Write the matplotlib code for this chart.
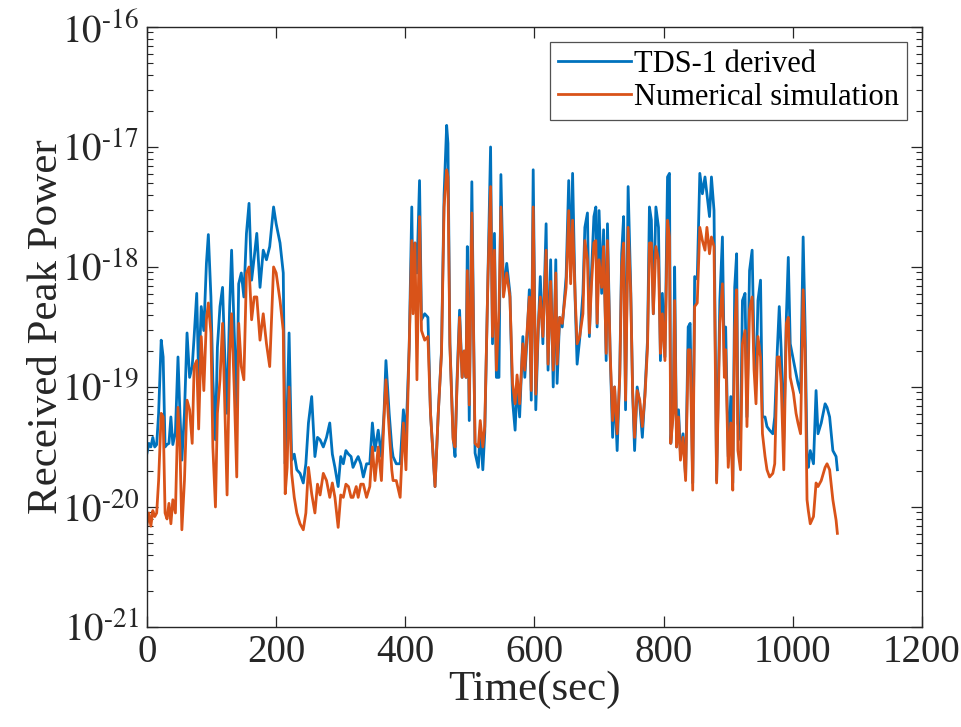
import numpy as np
import matplotlib
matplotlib.use("Agg")
import matplotlib.pyplot as plt
from matplotlib.ticker import FixedLocator, NullFormatter, FuncFormatter

plt.rcParams['font.family'] = ['Liberation Serif', 'DejaVu Serif']
plt.rcParams['mathtext.fontset'] = 'stix'

time_sec = [0, 3, 6, 9, 12, 15, 18, 22, 25, 28, 31, 34, 37, 40, 44, 48, 51, 54, 58, 62,
            66, 70, 73, 77, 80, 84, 88, 92, 95, 99, 102, 106, 109, 113, 117, 120, 124, 128, 131, 135,
            139, 142, 146, 150, 154, 158, 162, 166, 170, 175, 180, 185, 190, 196, 200, 206, 211, 214, 217, 220,
            224, 228, 232, 237, 242, 246, 250, 255, 260, 264, 268, 273, 278, 283, 287, 291, 296, 300, 304, 308,
            312, 316, 319, 324, 327, 331, 335, 340, 345, 349, 353, 358, 363, 367, 370, 375, 379, 381, 386, 392,
            397, 401, 406, 410, 412, 415, 418, 422, 425, 430, 435, 439, 446, 451, 456, 460, 464, 466, 469, 474,
            477, 480, 484, 488, 491, 494, 496, 499, 503, 508, 513, 516, 520, 523, 528, 532, 535, 538, 541, 545,
            548, 552, 557, 562, 566, 570, 573, 577, 582, 585, 588, 592, 595, 598, 602, 606, 609, 613, 618, 621,
            625, 629, 633, 635, 639, 643, 649, 653, 656, 659, 663, 666, 670, 675, 678, 682, 685, 688, 692, 695,
            697, 700, 704, 707, 711, 713, 717, 721, 724, 728, 732, 735, 738, 741, 745, 749, 752, 755, 759, 763,
            767, 771, 775, 778, 781, 784, 788, 792, 795, 798, 802, 806, 809, 811, 815, 817, 820, 823, 826, 830,
            834, 838, 841, 845, 848, 852, 856, 860, 864, 867, 871, 874, 878, 882, 887, 891, 894, 896, 900, 904,
            907, 910, 913, 915, 919, 922, 926, 929, 933, 937, 940, 943, 946, 950, 953, 957, 960, 964, 969, 972,
            976, 979, 982, 986, 990, 993, 996, 1001, 1005, 1008, 1012, 1016, 1019, 1022, 1024, 1027, 1032, 1036, 1039, 1044,
            1050, 1053, 1057, 1062, 1067, 1069]

# log10 of received peak power
tds1_log10 = [-19.55, -19.47, -19.50, -19.42, -19.50, -19.48, -19.22, -18.61, -18.75, -19.50, -19.48, -19.47, -19.25, -19.48, -19.38, -18.75, -19.22, -19.61, -19.22, -18.55,
              -18.92, -18.83, -18.58, -18.22, -18.94, -18.33, -18.53, -17.97, -17.73, -18.25, -18.94, -19.44, -18.67, -18.33, -18.17, -18.67, -19.22, -18.33, -17.86, -18.53,
              -19.17, -18.14, -18.05, -18.25, -17.72, -17.47, -18.11, -17.92, -17.72, -18.17, -17.86, -17.94, -17.83, -17.50, -17.64, -17.80, -18.05, -19.64, -19.22, -18.55,
              -19.61, -19.56, -19.69, -19.72, -19.80, -19.64, -19.30, -19.08, -19.58, -19.42, -19.44, -19.50, -19.42, -19.30, -19.56, -19.67, -19.83, -19.58, -19.64, -19.53,
              -19.56, -19.58, -19.67, -19.61, -19.58, -19.64, -19.75, -19.64, -19.64, -19.30, -19.53, -19.36, -19.58, -19.22, -18.78, -19.22, -19.50, -19.58, -19.64, -19.64,
              -19.19, -19.42, -18.67, -17.50, -18.33, -17.80, -18.05, -17.28, -18.44, -18.39, -18.42, -19.22, -19.83, -19.22, -18.70, -17.40, -16.82, -16.97, -18.63, -19.42,
              -19.58, -18.95, -18.36, -18.92, -18.70, -18.92, -17.83, -19.28, -17.29, -19.55, -19.67, -19.36, -19.69, -19.38, -18.08, -17.00, -18.64, -17.72, -18.92, -18.92,
              -17.23, -18.22, -17.97, -18.22, -19.11, -19.36, -18.97, -19.25, -18.58, -18.92, -18.64, -18.19, -19.11, -17.19, -19.19, -18.50, -18.08, -18.64, -17.64, -18.86,
              -17.94, -19.00, -17.94, -18.97, -18.42, -18.50, -18.08, -17.28, -18.08, -17.22, -18.28, -18.81, -18.60, -18.22, -17.67, -17.55, -18.58, -18.08, -17.58, -17.50,
              -18.50, -17.53, -18.22, -17.69, -18.78, -17.64, -18.69, -19.42, -19.00, -19.53, -18.89, -17.89, -17.58, -19.19, -17.33, -18.17, -19.05, -19.53, -19.00, -19.14,
              -19.42, -19.05, -18.61, -17.50, -17.61, -18.39, -17.50, -17.67, -18.78, -18.22, -18.75, -17.25, -17.22, -19.47, -19.14, -18.00, -19.50, -19.19, -19.55, -19.39,
              -19.75, -18.50, -18.47, -19.80, -18.08, -18.10, -17.22, -17.39, -17.25, -17.39, -17.58, -17.25, -17.53, -19.78, -18.28, -17.75, -18.83, -18.50, -19.58, -19.08,
              -19.80, -18.17, -17.89, -19.30, -19.44, -18.28, -18.22, -19.25, -18.03, -17.86, -18.69, -18.97, -18.28, -18.11, -19.25, -19.25, -19.33, -19.36, -19.39, -19.25,
              -18.69, -18.33, -18.69, -19.44, -18.42, -17.92, -18.64, -18.78, -18.89, -18.97, -19.05, -17.75, -18.50, -19.58, -19.67, -19.53, -19.64, -19.03, -19.39, -19.30,
              -19.14, -19.17, -19.25, -19.53, -19.58, -19.69]

sim_log10 = [-20.15, -20.05, -20.16, -20.03, -20.08, -20.05, -19.78, -19.22, -19.25, -20.05, -20.10, -19.97, -20.14, -19.94, -20.05, -19.17, -19.50, -20.19, -19.78, -19.11,
             -19.19, -19.47, -18.83, -18.78, -19.35, -18.58, -19.03, -18.44, -18.30, -18.55, -19.50, -20.00, -19.22, -18.94, -18.47, -19.06, -19.90, -18.72, -18.39, -19.00,
             -19.75, -18.47, -18.83, -18.94, -18.05, -18.00, -18.44, -18.25, -18.25, -18.61, -18.39, -18.64, -18.83, -18.00, -18.05, -18.28, -18.53, -19.89, -19.67, -19.00,
             -19.72, -19.92, -20.05, -20.14, -20.19, -20.05, -19.67, -19.89, -20.05, -19.81, -19.90, -19.72, -19.78, -19.92, -19.80, -19.92, -20.17, -19.90, -19.92, -19.81,
             -19.83, -19.92, -19.92, -19.83, -19.92, -19.81, -19.81, -19.92, -19.83, -19.50, -19.78, -19.50, -19.78, -19.25, -18.94, -19.36, -19.69, -19.78, -19.78, -19.92,
             -19.30, -19.69, -18.67, -17.78, -18.39, -17.80, -18.94, -17.58, -18.53, -18.61, -18.58, -19.22, -19.83, -19.22, -18.72, -17.50, -17.19, -17.25, -18.65, -19.44,
             -19.50, -19.00, -18.42, -18.92, -18.70, -18.92, -18.03, -19.15, -17.55, -19.47, -19.50, -19.28, -19.50, -19.33, -18.08, -17.33, -18.58, -17.86, -18.86, -18.36,
             -17.50, -18.25, -18.05, -18.25, -18.97, -19.14, -18.90, -19.14, -18.64, -18.86, -18.58, -18.25, -19.03, -17.50, -19.06, -18.47, -18.25, -18.58, -17.86, -18.81,
             -18.12, -18.86, -18.05, -18.81, -18.42, -18.47, -18.17, -17.53, -18.14, -17.61, -18.25, -18.64, -18.58, -18.39, -17.78, -17.94, -18.55, -18.17, -17.80, -17.78,
             -18.47, -17.94, -18.17, -17.83, -18.72, -17.78, -18.69, -19.28, -19.00, -19.39, -18.92, -18.00, -17.80, -19.11, -17.67, -18.22, -19.05, -19.42, -19.03, -19.11,
             -19.33, -19.08, -18.67, -17.80, -17.80, -18.39, -17.83, -17.94, -18.72, -18.39, -18.78, -17.61, -17.75, -19.47, -19.22, -18.28, -19.50, -19.25, -19.61, -19.42,
             -19.78, -18.69, -18.69, -19.86, -18.33, -18.30, -17.67, -17.78, -17.86, -17.67, -17.89, -17.75, -17.83, -19.80, -18.47, -18.14, -18.92, -18.69, -19.67, -19.30,
             -19.86, -18.53, -18.19, -19.53, -19.69, -18.64, -18.53, -19.33, -18.36, -18.25, -18.86, -19.14, -18.58, -18.75, -19.39, -19.58, -19.69, -19.75, -19.72, -19.64,
             -18.75, -18.75, -18.97, -19.69, -18.47, -18.42, -18.92, -19.05, -19.22, -19.30, -19.39, -18.19, -18.70, -19.94, -20.03, -20.14, -20.08, -19.80, -19.83, -19.78,
             -19.67, -19.64, -19.69, -19.94, -20.11, -20.22]

x_ticks = [0, 200, 400, 600, 800, 1000, 1200]
y_decades = [-21, -20, -19, -18, -17, -16]
series_labels = ['TDS-1 derived', 'Numerical simulation']

t = np.array(time_sec)
tds1 = 10.0 ** np.array(tds1_log10)
sim = 10.0 ** np.array(sim_log10)

fig = plt.figure(figsize=(9.62, 7.27), dpi=100)
ax = fig.add_axes([0.1528, 0.1376, 0.8056, 0.8253])

ax.plot(t, tds1, color='#0072BD', lw=2.0, label=series_labels[0])
ax.plot(t, sim, color='#D95319', lw=2.0, label=series_labels[1])

ax.set_yscale('log')
ax.set_ylim(1e-21, 1e-16)
ax.set_xlim(0, 1200)
ax.xaxis.set_major_locator(FixedLocator(x_ticks))
major_y = [10.0 ** d for d in y_decades]
minor_y = [m * 10.0 ** d for d in y_decades[:-1] for m in range(2, 10)]
ax.yaxis.set_major_locator(FixedLocator(major_y))
ax.yaxis.set_minor_locator(FixedLocator(minor_y))


def decade_label(v, pos):
    e = int(round(np.log10(v)))
    return r'$10^{\text{-%d}}$' % (-e)


ax.yaxis.set_major_formatter(FuncFormatter(decade_label))
ax.yaxis.set_minor_formatter(NullFormatter())

axis_color = '#262626'
for s in ax.spines.values():
    s.set_color(axis_color)
    s.set_linewidth(1.0)
ax.tick_params(which='both', direction='in', top=True, right=True, colors=axis_color,
               labelcolor='#262626', labelsize=28)
ax.tick_params(which='major', length=8, width=0.9)
ax.tick_params(which='minor', length=4, width=0.8)
ax.tick_params(axis='x', pad=5)
ax.tick_params(axis='y', pad=6)

ax.set_xlabel('Time(sec)', fontsize=31, labelpad=0, color='#262626')
ax.set_ylabel('Received Peak Power', fontsize=31, labelpad=-3, color='#262626')

leg = ax.legend(loc='upper right', fontsize=22, frameon=True, fancybox=False,
                edgecolor=axis_color, handlelength=2.4, handletextpad=0.1,
                borderpad=0.25, labelspacing=0.14, borderaxespad=0.5)
leg.get_frame().set_linewidth(0.9)

fig.savefig('out.png', dpi=100, facecolor='white')
